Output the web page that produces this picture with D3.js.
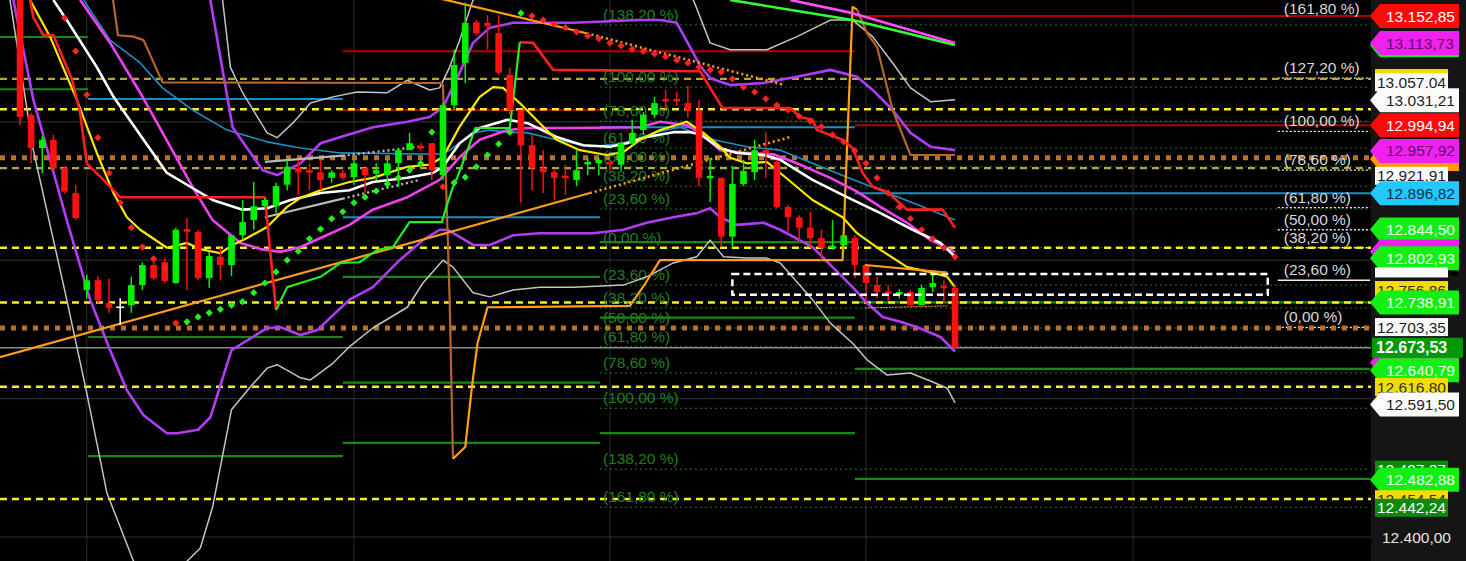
<!DOCTYPE html>
<html><head><meta charset="utf-8">
<script src="https://cdn.jsdelivr.net/npm/d3@7/dist/d3.min.js"></script>
<style>html,body{margin:0;padding:0;background:#000;overflow:hidden}svg{display:block}</style>
</head><body><svg id="c" width="1466" height="561"></svg>
<script>
// ---------------- DATA ----------------
// candles (index 0..84)
const candleOpen  = [13176,13010,12962,12974,12933,12897,12757,12771,12738,12732,12735,12764,12793,12797,12767,12845,12841,12774,12805,12793,12836,12858,12878,12878,12909,12933,12930,12927,12919,12926,12920,12933,12925,12923,12940,12959,12965,12969,12923,13024,13085,13144,13143,13128,13068,13017,12966,12933,12927,12922,12916,12939,12940,12942,12938,12969,12988,13010,13033,13033,13027,13016,12919,12919,12834,12910,12927,12959,12942,12877,12862,12847,12832,12818,12822,12832,12793,12764,12755,12751,12754,12735,12761,12763,12760];
const candleHigh  = [13183,13013,12979,12981,12936,12909,12779,12777,12773,12745,12776,12797,12800,12803,12847,12861,12844,12812,12818,12836,12887,12913,12890,12912,12945,12945,12940,12945,12930,12930,12945,12933,12940,12945,12962,12984,12969,12969,13027,13104,13172,13147,13154,13154,13078,13017,12981,12959,12930,12938,12959,12948,12948,12943,12969,13003,13014,13036,13046,13043,13052,13032,12948,12919,12936,12945,12974,12985,12945,12880,12865,12870,12844,12858,12836,12836,12793,12776,12764,12758,12757,12764,12779,12771,12764];
const candleLow   = [12995,12940,12926,12930,12896,12858,12745,12738,12724,12706,12724,12757,12771,12767,12766,12757,12771,12760,12771,12777,12829,12844,12875,12868,12901,12894,12901,12901,12912,12916,12909,12897,12916,12907,12906,12959,12959,12916,12916,13017,13056,13125,13104,13068,13010,12883,12901,12897,12887,12894,12907,12923,12923,12930,12930,12966,12981,13005,13017,13023,13006,12907,12884,12819,12818,12907,12916,12919,12875,12841,12825,12818,12800,12815,12815,12774,12742,12745,12742,12745,12735,12735,12754,12738,12673.53];
const candleClose = [13007,12962,12974,12933,12899,12861,12771,12742,12731,12732,12764,12793,12774,12770,12844,12841,12774,12806,12793,12836,12855,12878,12887,12907,12935,12927,12927,12916,12927,12919,12940,12923,12930,12940,12959,12969,12962,12930,13024,13082,13143,13128,13138,13071,13017,12966,12933,12927,12919,12919,12930,12942,12945,12939,12969,12984,13010,13027,13030,13030,13017,12919,12922,12834,12910,12929,12959,12955,12877,12862,12847,12832,12818,12821,12836,12793,12767,12754,12753,12754,12735,12760,12767,12760,12673.53];

// parabolic SAR dots from index 4
const sarStart = 4;
const sarValues = [13150,13102,13039,12977,12926,12883,12847,12819,12802,12789,12709,
  12711,12718,12724,12729,12735,12740,12753,12767,12783,12800,12813,12831,12845,12860,12870,12883,12891,12900,12910,12919,12930,12940,12985,
  12906,
  12912,12920,12935,12952,12968,12985,13157,
  13153,13147,13141,13136,13130,13124,13120,13114,13110,13105,13102,13098,13094,13089,13085,13079,13075,13072,13062,13050,13043,13033,13024,13017,13008,13001,12993,12981,12971,12958,12940,12919,12897,12877,12860,12844,12831,12818,12805];
const sarSide = "rrrrrrrrrrrgggggggggggggggggggggggrgggggggrrrrrrrrrrrrrrrrrrrrrrrrrrrrrrrrrrrrrrr";

// indicator lines: [candle index, price]
const whiteMA = [[3.0,13176],[4.2,13147],[6.9,13079],[8.4,13036],[11.1,12974],[13.2,12926],[15.0,12909],[17.3,12887],[20.0,12873],[22.2,12875],[24.3,12887],[27.0,12897],[29.6,12901],[31.7,12913],[34.8,12919],[37.1,12926],[38.0,12935],[39.5,12969],[41.3,12991],[43.8,13003],[45.6,12998],[48.2,12978],[50.6,12966],[53.0,12964],[54.5,12969],[56.3,12978],[58.7,12985],[60.2,12985],[61.1,12982],[62.9,12962],[64.4,12955],[66.8,12952],[68.3,12945],[71.2,12916],[74.3,12891],[77.3,12868],[80.2,12844],[82.7,12825],[84.0,12805]];
const yellowMA = [[0.9,13176],[2.7,13123],[5.1,13032],[6.9,12955],[8.4,12897],[9.6,12862],[10.8,12844],[13.2,12818],[15.0,12825],[16.2,12816],[18.0,12810],[19.1,12822],[20.4,12832],[22.2,12848],[24.0,12877],[25.2,12890],[27.0,12901],[29.6,12913],[31.7,12919],[34.8,12935],[36.8,12938],[38.0,12949],[39.5,12993],[41.3,13036],[42.5,13050],[43.4,13049],[44.9,13027],[46.7,12998],[48.2,12974],[50.3,12959],[52.7,12952],[54.2,12956],[55.7,12974],[57.5,12988],[59.9,13000],[61.4,12984],[62.9,12964],[63.8,12948],[65.3,12940],[67.1,12942],[68.3,12926],[71.2,12887],[73.9,12862],[75.2,12839],[77.3,12815],[79.7,12790],[82.0,12782],[83.3,12776],[84.0,12761]];
const magentaMid = [[5.4,13176],[8.1,13114],[10.8,13042],[13.5,12964],[15.5,12906],[17.3,12858],[19.8,12825],[21.6,12816],[23.4,12812],[25.2,12819],[27.0,12832],[29.6,12851],[31.7,12873],[34.8,12891],[37.7,12916],[39.5,12949],[41.3,12974],[43.8,12988],[45.6,12991],[49.7,12991],[55.7,12992],[57.5,13000],[59.9,12995],[61.1,12984],[62.9,12959],[65.3,12955],[67.7,12953],[69.8,12940],[72.8,12919],[75.2,12899],[77.3,12877],[79.7,12854],[81.8,12829],[84.0,12812]];
const bandUpper = [[16.6,13205],[17.1,13176],[19.1,12992],[21.8,12930],[23.1,12923],[25.2,12940],[27.0,12969],[28.8,12978],[31.7,12992],[34.8,13000],[36.8,13007],[38.0,13021],[39.5,13071],[40.7,13114],[42.2,13136],[44.3,13143],[49.7,13143],[55.7,13147],[57.5,13147],[59.0,13143],[60.2,13108],[61.1,13081],[62.0,13063],[63.8,13053],[66.8,13056],[69.8,13065],[72.8,13075],[75.2,13065],[76.6,13046],[78.4,13017],[80.0,12984],[81.8,12964],[84.0,12959]];
const bandLower = [[-0.6,13176],[1.2,13032],[4.2,12858],[6.3,12743],[8.1,12670],[9.6,12612],[11.1,12576],[13.2,12550],[14.1,12550],[16.0,12555],[17.1,12573],[19.0,12670],[20.0,12680],[22.2,12702],[23.4,12703],[25.2,12692],[26.7,12699],[29.6,12743],[31.7,12761],[34.1,12800],[36.2,12829],[37.7,12844],[38.4,12844],[40.7,12822],[42.2,12822],[44.3,12836],[46.7,12839],[51.5,12839],[54.2,12844],[56.3,12854],[58.7,12862],[60.8,12868],[62.0,12875],[62.9,12862],[64.4,12851],[66.8,12854],[68.3,12844],[71.2,12819],[73.0,12790],[74.8,12761],[76.1,12738],[77.5,12718],[79.1,12711],[80.6,12703],[82.7,12689],[84.0,12668]];
const blueLine = [[5.7,13176],[8.1,13118],[10.8,13085],[12.8,13049],[15.5,13017],[18.6,12988],[22.2,12971],[25.2,12962],[28.8,12955],[37.7,12953],[38.6,12959],[40.7,12984],[42.2,12988],[43.8,12985],[45.6,12984],[48.2,12974],[51.2,12964],[54.2,12969],[57.2,12985],[59.3,12992],[62.3,12974],[65.3,12964],[68.3,12959],[71.2,12940],[74.3,12920],[77.3,12901],[80.2,12883],[84.0,12858]];
const grayUpper = [[18.2,13176],[18.9,13079],[20.0,13042],[22.2,12984],[23.1,12977],[24.5,12998],[26.1,13027],[28.1,13036],[30.3,13043],[33.0,13042],[34.8,13060],[36.8,13046],[37.7,13049],[38.6,13079],[39.5,13118],[40.7,13176],[50.3,13263],[60.5,13176],[62.0,13114],[63.8,13104],[67.1,13104],[69.8,13123],[72.8,13147],[74.8,13147],[76.6,13123],[78.4,13085],[80.0,13049],[81.8,13029],[84.0,13032]];
const grayLower = [[-0.9,13176],[1.2,12959],[4.2,12743],[6.0,12608],[7.8,12464],[10.2,12365],[12.6,12309],[15.0,12365],[16.2,12384],[17.3,12443],[19.0,12584],[20.7,12617],[22.2,12644],[23.1,12649],[25.2,12630],[26.1,12627],[28.1,12651],[29.6,12675],[31.7,12702],[34.8,12732],[36.2,12767],[38.0,12800],[38.9,12790],[40.7,12753],[42.2,12747],[44.3,12757],[46.7,12761],[49.7,12761],[54.2,12764],[56.3,12776],[58.7,12796],[60.8,12805],[62.0,12829],[63.2,12805],[65.3,12803],[67.1,12803],[68.3,12796],[71.2,12743],[72.8,12709],[74.8,12680],[76.1,12656],[77.9,12634],[80.0,12637],[82.0,12624],[83.3,12615],[84.0,12594]];
const stopRed1 = [[0.9,13176],[1.2,13151],[2.1,13125],[3.0,13125],[4.7,13060],[5.4,13013],[6.0,12940],[7.5,12916],[9.0,12891],[22.0,12891],[23.0,12728]];
const stopGreen = [[23.0,12728],[24.0,12761],[25.2,12767],[27.0,12776],[28.8,12796],[30.5,12797],[32.1,12815],[33.5,12819],[35.0,12855],[37.9,12855],[38.3,12877],[38.9,12906],[39.3,12920],[40.2,12959],[40.9,12991],[44.0,12991],[44.3,13032],[44.9,13115]];
const stopRed2 = [[44.9,13115],[46.1,13114],[47.9,13075],[61.1,13073],[63.1,13020],[69.2,13020],[70.1,13007],[71.2,13003],[71.6,12988],[73.9,12974],[74.8,12962],[75.7,12926],[76.6,12906],[77.9,12899],[79.7,12873],[82.9,12873],[84.0,12847]];
const brownLeft = [[8.3,13183],[8.8,13125],[10.2,13123],[11.1,13118],[12.8,13057],[37.7,13056],[38.0,13053],[38.6,12743],[38.9,12513]];
const orangeStep = [[38.9,12513],[40.0,12530],[40.6,12617],[41.1,12680],[42.0,12732],[54.8,12734],[56.2,12767],[57.5,12800],[73.9,12800],[74.8,13166],[75.2,13162]];
const brownRight = [[75.2,13162],[76.1,13128],[77.0,13108],[78.4,13017],[80.0,12952],[84.0,12952]];
const topMagenta = [[69.2,13176],[74.8,13157],[84.0,13114]];
const topGreen = [[63.8,13176],[74.8,13147],[84.0,13111]];
const trendUp = [[-1.8,12660],[51.2,12897]];
const trendUpExt = [[51.2,12897],[69.2,12978]];
const trendDown = [[35.9,13185],[50.9,13128]];
const trendDownExt = [[50.9,13128],[68.7,13053]];
const regUpper = [[22.0,12942],[29.0,12951]];
const regUpperExt = [[29.0,12951],[35.9,12964]];
const regLower = [[22.0,12862],[29.0,12889]];
const regLowerExt = [[29.0,12889],[35.9,12916]];
const endOrange = [[75.9,12793],[83.3,12782]];
const endOrangeThin = [[75.9,12731],[83.3,12734]];

// horizontal levels: [from index, to index, price]
const greenLevels = [[-1.8,6.1,13122.5],[-1.8,6.1,13047],[6.1,29,12689],[6.1,29,12517],[29,52.1,12776],[29,52.1,12623],[29,52.1,12536],[52.1,75,12826],[52.1,75,12717],[52.1,75,12550],[75,121.3,12643],[75,121.3,12484],[75,121.3,12739]];
const redLevels = [[29,75,13102],[29,52.1,13017],[75,121.3,13152.85],[75,121.3,12994.94]];
const cyanLevels = [[6.1,29,13033],[29,52.1,12862],[52.1,75,12992],[75,121.3,12896.82]];
const yellowDashed = [13018,12818,12739,12617,12455];
const khakiDashed = [13062,12933];
const brownDotted = [12948,12702];
const lastPrice = 12673.53;
const boxRange = [64, 112.1, 12750, 12780];

// fibonacci levels
const fibGreenLabels = ["(138,20 %)","(100,00 %)","(78,60 %)","(61,80 %)","(50,00 %)","(38,20 %)","(23,60 %)","(0,00 %)","(23,60 %)","(38,20 %)","(50,00 %)","(61,80 %)","(78,60 %)","(100,00 %)","(138,20 %)","(161,80 %)"];
const fibGreenPrices = [13140,13050,13001,12962,12935,12907,12874,12818,12764,12731,12702,12675,12637,12586,12498,12443];
const fibGreenRange = [52.1, 121.3];
const fibWhiteLabels = ["(161,80 %)","(127,20 %)","(100,00 %)","(78,60 %)","(61,80 %)","(50,00 %)","(38,20 %)","(23,60 %)","(0,00 %)"];
const fibWhitePrices = [13153,13063,12986,12930,12876,12844,12818,12771,12703];
const fibWhiteRange = [113.0, 121.3];

// axis
const gridTimes = [6, 30, 53, 76, 100];
const gridPrices = [12400, 12600, 12800, 13000];
const axisTick = 12400;
const tagPrices = [13110.5,13152.85,13113.73,13063.2,13057.04,13031.21,12994.94,12946.1,12957.92,12921.91,12896.82,12844.50,12812.4,12802.93,12779.4,12756.86,12738.91,12703.35,12652.3,12640.79,12616.80,12591.50,12497.37,12482.88,12454.54,12442.24];
const tagSeries = ['green','red','magenta','yellow','white','white','red','orange','magenta','white','cyan','green','magenta','green','white','yellow','green','white','magenta','green','yellow','white','dkgreen','green','yellow','dkgreen'];
const tagShape = ['arrow','arrow','arrow','rect','rect','arrow','arrow','arrow','arrow','rect','arrow','arrow','arrow','arrow','strip','rect','arrow','rect','arrow','arrow','rect','arrow','rect','arrow','rect','rect'];
const tagTextShown = [false,true,true,false,true,true,true,false,true,true,true,true,false,true,false,true,true,true,false,true,true,true,true,true,true,true];

// ---------------- STYLE ----------------
const W = 1466, H = 561, PR = 1371;
const FONT = "'Liberation Sans', Arial, sans-serif";
const tagFill = {red:'#ff0a0a', magenta:'#f020f0', white:'#fbfbfb', yellow:'#f3dc00', orange:'#ff9a00', cyan:'#22c8ff', green:'#12ef12', dkgreen:'#0b8a0b'};
const tagInk  = {red:'#ffffff', magenta:'#5c1466', white:'#1e1e1e', yellow:'#303030', orange:'#303030', cyan:'#12304c', green:'#f2fff2', dkgreen:'#ffffff'};

// ---------------- DRAW ----------------
const x = d3.scaleLinear().domain([0, 84]).range([20, 955]);
const y = d3.scaleLinear().domain([12400, 13152.85]).range([537, 16]);
const fmt = d3.formatLocale({decimal: ",", thousands: ".", grouping: [3], currency: ["", ""]}).format(",.2f");
const line = d3.line().x(d => x(d[0])).y(d => y(d[1]));

const svg = d3.select('#c');
svg.append('rect').attr('width', W).attr('height', H).attr('fill', '#000');
svg.append('rect').attr('x', PR).attr('width', W - PR).attr('height', H).attr('fill', '#151515');
svg.append('defs').append('clipPath').attr('id', 'plot').append('rect').attr('width', PR).attr('height', H);
const g = svg.append('g').attr('clip-path', 'url(#plot)');

// grid
g.selectAll('.gx').data(gridTimes).join('line').attr('x1', d => x(d)).attr('x2', d => x(d)).attr('y1', 0).attr('y2', H).attr('stroke', '#2c2c2c').attr('stroke-width', 1);
g.selectAll('.gy').data(gridPrices).join('line').attr('x1', 0).attr('x2', PR).attr('y1', d => y(d)).attr('y2', d => y(d)).attr('stroke', '#2e2e2e').attr('stroke-width', 1.2);

// fib dotted lines
g.selectAll('.fg').data(fibGreenPrices).join('line').attr('x1', x(fibGreenRange[0])).attr('x2', x(fibGreenRange[1]))
  .attr('y1', d => y(d)).attr('y2', d => y(d)).attr('stroke', '#1f7a1f').attr('stroke-width', 1).attr('stroke-dasharray', '2,3');
g.selectAll('.fw').data(fibWhitePrices).join('line').attr('x1', x(fibWhiteRange[0])).attr('x2', x(fibWhiteRange[1]))
  .attr('y1', d => y(d)).attr('y2', d => y(d)).attr('stroke', '#eeeeee').attr('stroke-width', 1.3)
  .attr('stroke-dasharray', (d, i) => fibWhiteLabels[i] === "(23,60 %)" ? null : '2,2');

function levels(data, color, w) {
  g.append('g').selectAll('line').data(data).join('line')
    .attr('x1', d => x(d[0])).attr('x2', d => x(d[1])).attr('y1', d => y(d[2])).attr('y2', d => y(d[2]))
    .attr('stroke', color).attr('stroke-width', w);
}
levels(greenLevels, '#148c14', 2.2);
levels(redLevels, '#b30000', 2);
levels(cyanLevels, '#1a8ec4', 2);

g.append('line').attr('x1', 0).attr('x2', PR).attr('y1', y(lastPrice)).attr('y2', y(lastPrice)).attr('stroke', '#8c8c8c').attr('stroke-width', 1.6);

function hDash(prices, color, w, dash) {
  g.append('g').selectAll('line').data(prices).join('line')
    .attr('x1', 0).attr('x2', PR).attr('y1', d => y(d)).attr('y2', d => y(d))
    .attr('stroke', color).attr('stroke-width', w).attr('stroke-dasharray', dash);
}
hDash(khakiDashed, '#b5a63c', 2.2, '7,5');
hDash(yellowDashed, '#f6ee2a', 2.5, '7,5');
hDash(brownDotted, '#b8702f', 5, '5,6');

// fib labels
g.selectAll('.tg').data(fibGreenLabels).join('text').attr('x', x(fibGreenRange[0]) + 3).attr('y', (d, i) => y(fibGreenPrices[i]) - 5)
  .text(d => d).attr('fill', '#1f7f1f').attr('font-family', FONT).attr('font-size', 15.5);
g.selectAll('.tw').data(fibWhiteLabels).join('text').attr('x', x(fibWhiteRange[0]) + 6).attr('y', (d, i) => Math.max(14, y(fibWhitePrices[i]) - 5))
  .text(d => d).attr('fill', '#d8d8d8').attr('font-family', FONT).attr('font-size', 15.5);

// indicator lines
function path(data, color, w, dash) {
  g.append('path').datum(data).attr('d', line).attr('fill', 'none').attr('stroke', color)
    .attr('stroke-width', w).attr('stroke-linejoin', 'round').attr('stroke-dasharray', dash || null);
}
path(grayUpper, '#c4c4c4', 1.5);
path(grayLower, '#c4c4c4', 1.5);
path(blueLine, '#1f8fc4', 1.6);
path(bandUpper, '#b23cf5', 2.6);
path(bandLower, '#b23cf5', 2.6);
path(brownLeft, '#b5652a', 2.2);
path(brownRight, '#b5652a', 2.2);
path(orangeStep, '#ffa014', 2.2);
path(trendUp, '#ff9d1a', 2.2);
path(trendUpExt, '#ff9d1a', 2.6, '2,3');
path(trendDown, '#ff9d1a', 2.2);
path(trendDownExt, '#ff9d1a', 2.6, '2,3');
path(regUpper, '#b8b8b8', 2.2);
path(regUpperExt, '#b8b8b8', 2.4, '2,3');
path(regLower, '#b8b8b8', 2.2);
path(regLowerExt, '#b8b8b8', 2.4, '2,3');
path(topGreen, '#33ff33', 2.6);
path(topMagenta, '#ff4dff', 2.6);
path(magentaMid, '#f040f0', 2.6);
path(whiteMA, '#ffffff', 2.6);
path(yellowMA, '#ffe600', 2.2);
path(stopRed1, '#ff1f1f', 2.6);
path(stopRed2, '#ff1f1f', 2.6);
path(stopGreen, '#22ee22', 2.2);

// candles
const idx = d3.range(candleOpen.length);
const cCol = i => candleClose[i] > candleOpen[i] ? '#00f000' : (candleClose[i] < candleOpen[i] ? '#ff1010' : '#ffffff');
g.append('g').selectAll('line').data(idx).join('line')
  .attr('x1', i => x(i)).attr('x2', i => x(i)).attr('y1', i => y(candleHigh[i])).attr('y2', i => y(candleLow[i]))
  .attr('stroke', cCol).attr('stroke-width', 1.5);
g.append('g').selectAll('rect').data(idx).join('rect')
  .attr('x', i => x(i) - (candleClose[i] === candleOpen[i] ? 4 : 3.3))
  .attr('width', i => candleClose[i] === candleOpen[i] ? 8 : 6.6)
  .attr('y', i => y(Math.max(candleOpen[i], candleClose[i])) - (candleClose[i] === candleOpen[i] ? 0.8 : 0))
  .attr('height', i => Math.max(candleClose[i] === candleOpen[i] ? 1.6 : 2.5, Math.abs(y(candleOpen[i]) - y(candleClose[i]))))
  .attr('fill', cCol);

// SAR diamonds
g.append('g').selectAll('path').data(sarValues).join('path')
  .attr('d', (v, k) => { const cx = x(sarStart + k), cy = y(v), r = 3.6; return `M${cx},${cy - r}L${cx + r},${cy}L${cx},${cy + r}L${cx - r},${cy}Z`; })
  .attr('fill', (v, k) => sarSide[k] === 'r' ? '#ff2020' : '#22f022');

// dashed box
g.append('rect').attr('x', x(boxRange[0])).attr('y', y(boxRange[3]))
  .attr('width', x(boxRange[1]) - x(boxRange[0])).attr('height', y(boxRange[2]) - y(boxRange[3]))
  .attr('fill', 'none').attr('stroke', '#ffffff').attr('stroke-width', 2.5).attr('stroke-dasharray', '7,4');

path(endOrange, '#ffa014', 2.2);
path(endOrangeThin, '#ffa014', 1, '2,1');

// axis tags
const tags = svg.append('g');
tagPrices.forEach((p, i) => {
  const cy = y(p), s = tagSeries[i];
  if (tagShape[i] === 'arrow') {
    const h = 24;
    tags.append('path').attr('d', `M${PR - 1},${cy}L${PR + 9},${cy - h / 2}L${PR + 88},${cy - h / 2}L${PR + 88},${cy + h / 2}L${PR + 9},${cy + h / 2}Z`).attr('fill', tagFill[s]);
    if (tagTextShown[i]) tags.append('text').attr('x', PR + 15).attr('y', cy).attr('dy', '0.36em').text(fmt(p))
      .attr('fill', tagInk[s]).attr('font-family', FONT).attr('font-size', 15.5);
  } else if (tagShape[i] === 'strip') {
    tags.append('rect').attr('x', PR + 4).attr('y', cy - 7).attr('width', 73).attr('height', 10).attr('fill', tagFill[s]);
    tags.append('rect').attr('x', PR + 79).attr('y', cy - 3).attr('width', 9).attr('height', 4).attr('fill', '#000');
  } else {
    const h = 18;
    tags.append('rect').attr('x', PR + 4).attr('y', cy - h / 2).attr('width', 73).attr('height', h).attr('fill', tagFill[s]);
    if (tagTextShown[i]) tags.append('text').attr('x', PR + 6).attr('y', cy).attr('dy', '0.36em').text(fmt(p))
      .attr('fill', tagInk[s]).attr('font-family', FONT).attr('font-size', 15.5);
  }
});
// last price tag
tags.append('rect').attr('x', PR + 1).attr('y', y(lastPrice) - 10).attr('width', 91).attr('height', 20).attr('fill', '#009a00');
tags.append('text').attr('x', PR + 5).attr('y', y(lastPrice)).attr('dy', '0.36em').text(fmt(lastPrice))
  .attr('fill', '#ffffff').attr('font-family', FONT).attr('font-size', 16).attr('font-weight', 'bold');
// axis tick
tags.append('text').attr('x', PR + 11).attr('y', y(axisTick)).attr('dy', '0.36em').text(fmt(axisTick))
  .attr('fill', '#e6e6e6').attr('font-family', FONT).attr('font-size', 15.5);
</script></body></html>
